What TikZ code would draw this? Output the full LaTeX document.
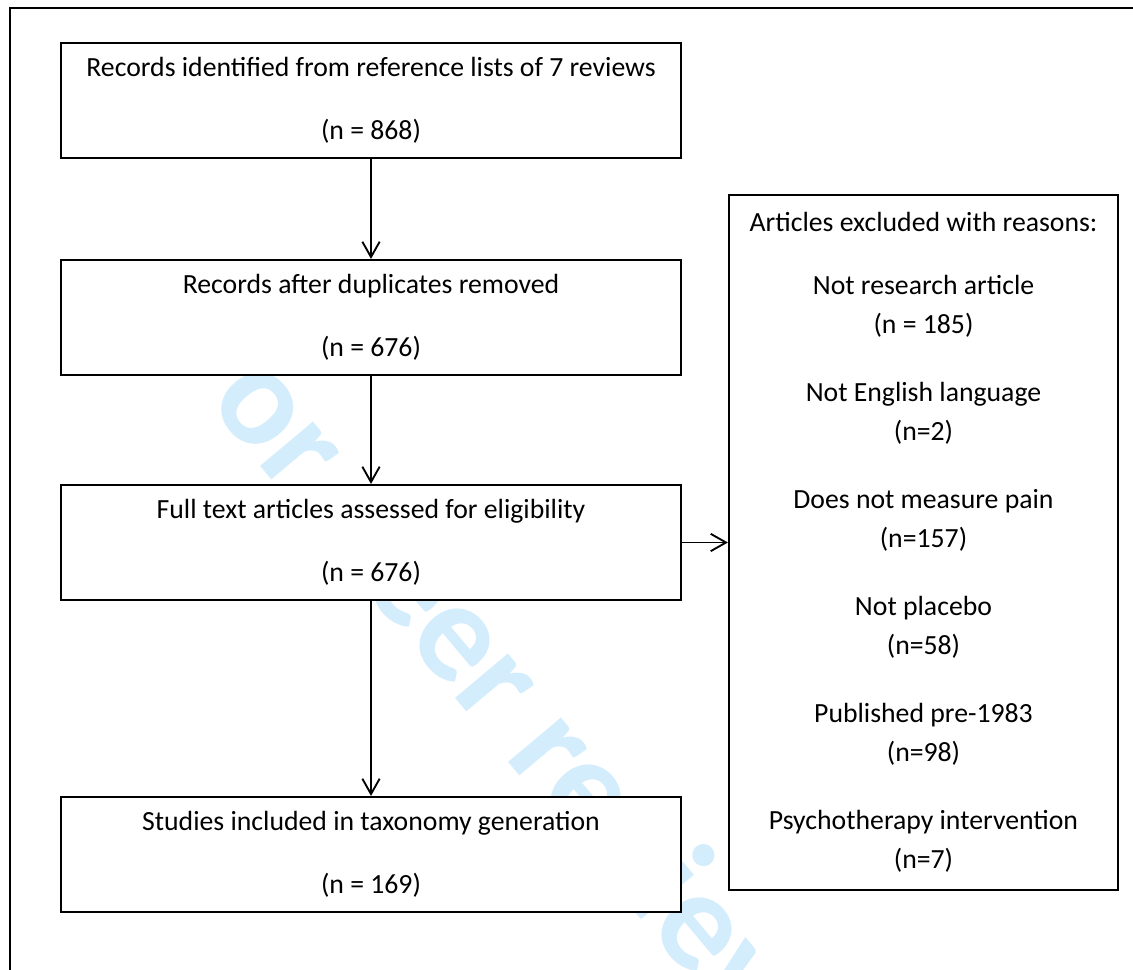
\documentclass[tikz,border=0pt]{standalone}
\usepackage{fontspec}
\setmainfont{Carlito}
\usetikzlibrary{arrows.meta}
\definecolor{marcaagua}{RGB}{212,237,252}

\begin{document}
\begin{tikzpicture}[x=0.75pt, y=-0.75pt, >={Straight Barb[length=11.5pt,width=13pt]},
    every node/.style={font=\fontsize{20.8pt}{29.25pt}\selectfont},
    % Estilos de cajas
    flowbox/.style={
        draw=black, line width=1.6pt, fill=white, inner sep=0pt,
        minimum width=465pt, minimum height=86.25pt, align=center,
        execute at begin node={\rule{0pt}{21pt}}
    },
    excludebox/.style={
        draw=black, line width=1.6pt, fill=white, inner sep=0pt,
        minimum width=291.75pt, minimum height=521.25pt, align=center,
        execute at begin node={\rule{0pt}{21pt}}
    },
    flowarrow/.style={->, line width=1.4pt}
]
\useasboundingbox (0,0) rectangle (1133,970);

% =============================================
% MARCA DE AGUA Y MARCO
% =============================================
\node[text=marcaagua, inner sep=0pt, rotate=-50,
    font=\fontsize{107pt}{107pt}\selectfont\bfseries] (watermark) at (493,683)
    {For peer review};

\draw[line width=1.6pt] (10,975) -- (10,8) -- (1140,8);

% =============================================
% CAJAS DEL FLUJO
% =============================================

% Registros identificados
\node[flowbox] (records) at (371,100.5)
    {Records identified from reference lists of 7 reviews\\[18pt](n = 868)};

% Sin duplicados
\node[flowbox] (dedup) at (371,317.5)
    {Records after duplicates removed\\[18pt](n = 676)};

% Texto completo
\node[flowbox] (fulltext) at (371,542.5)
    {Full text articles assessed for eligibility\\[18pt](n = 676)};

% Incluidos
\node[flowbox] (included) at (371,854.5)
    {Studies included in taxonomy generation\\[18pt](n = 169)};

% Excluidos (derecha)
\node[excludebox] (excluded) at (923.5,542.5)
    {Articles excluded with reasons:\\[18pt]
     Not research article\\(n = 185)\\[21.75pt]
     Not English language\\(n=2)\\[21.75pt]
     Does not measure pain\\(n=157)\\[21.75pt]
     Not placebo\\(n=58)\\[21.75pt]
     Published pre-1983\\(n=98)\\[21.75pt]
     Psychotherapy intervention\\(n=7)};

% =============================================
% CONEXIONES
% =============================================
\draw[flowarrow] (records.south) -- (dedup.north);
\draw[flowarrow] (dedup.south) -- (fulltext.north);
\draw[flowarrow] (fulltext.south) -- (included.north);
\draw[flowarrow] (fulltext.east) -- (excluded.west |- fulltext.east);

\end{tikzpicture}
\end{document}
